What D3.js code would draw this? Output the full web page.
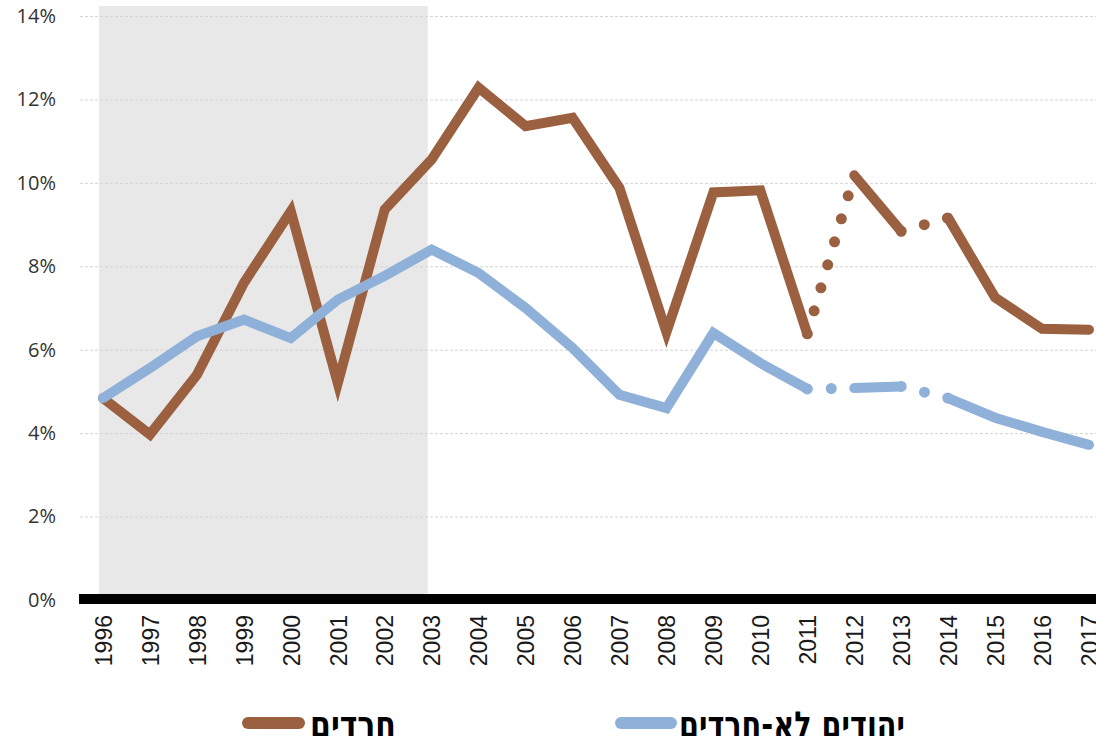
<!DOCTYPE html>
<html>
<head>
<meta charset="utf-8">
<script src="https://cdn.jsdelivr.net/npm/d3@7"></script>
<style>
  html, body { margin: 0; padding: 0; background: #fff; }
  svg { display: block; }
</style>
</head>
<body>
<svg id="chart" width="1096" height="736"></svg>
<script>
// ---- data ----
const years = [1996, 1997, 1998, 1999, 2000, 2001, 2002, 2003, 2004, 2005, 2006,
               2007, 2008, 2009, 2010, 2011, 2012, 2013, 2014, 2015, 2016, 2017];
const haredim = [4.84, 3.97, 5.4, 7.6, 9.32, 5.2, 9.36, 10.56, 12.28, 11.36, 11.56,
                 9.88, 6.42, 9.77, 9.82, 6.38, 10.18, 8.84, 9.16, 7.25, 6.5, 6.48];
const nonHaredim = [4.84, 5.56, 6.32, 6.72, 6.28, 7.2, 7.77, 8.4, 7.84, 7.0, 6.04,
                    4.92, 4.6, 6.4, 5.68, 5.06, 5.08, 5.12, 4.84, 4.37, 4.03, 3.72];
const solidRanges = [[1996, 2011], [2012, 2013], [2014, 2017]];
const dottedRanges = [[2011, 2012], [2013, 2014]];
const shadedYears = [1996, 2003];
const yTicks = [0, 2, 4, 6, 8, 10, 12, 14];
const seriesNames = ["חרדים", "יהודים לא-חרדים"];
const colors = ["#9b6040", "#8fb1d9"];

// ---- layout ----
const svg = d3.select("#chart");
const left = 80, right = 1096;
const x = d3.scalePoint().domain(years).range([103, 1089]);
const y = d3.scaleLinear().domain([0, 14]).range([600, 16]);

// shaded period
svg.append("rect")
  .attr("x", x(shadedYears[0]) - 4)
  .attr("y", y(14) - 10)
  .attr("width", x(shadedYears[1]) - x(shadedYears[0]))
  .attr("height", y(0) - y(14) + 10)
  .attr("fill", "#e8e8e8");

// y axis with gridlines
const yAxis = svg.append("g")
  .attr("transform", `translate(${left},0)`)
  .call(d3.axisLeft(y).tickValues(yTicks).tickFormat(d => d + "%")
        .tickSize(-(right - left)).tickPadding(24));
yAxis.select(".domain").remove();
yAxis.selectAll(".tick line")
  .attr("stroke", "#d4d4d4")
  .attr("stroke-width", 1)
  .attr("stroke-dasharray", "3,2")
  .filter(d => d === 0).remove();
yAxis.selectAll(".tick text")
  .attr("font-family", "'Open Sans', 'Noto Sans', sans-serif")
  .attr("font-size", 20)
  .attr("fill", "#333");

// baseline
svg.append("line")
  .attr("x1", left - 1).attr("x2", right)
  .attr("y1", y(0) - 1).attr("y2", y(0) - 1)
  .attr("stroke", "#000").attr("stroke-width", 10);

// x axis labels
const xAxis = svg.append("g")
  .attr("transform", `translate(0,${y(0)})`)
  .call(d3.axisBottom(x).tickSize(0));
xAxis.select(".domain").remove();
xAxis.selectAll(".tick text")
  .attr("transform", "rotate(-90)")
  .attr("text-anchor", "end")
  .attr("x", -15)
  .attr("y", 0)
  .attr("dy", "0.36em")
  .attr("font-family", "'Liberation Sans', Arial, sans-serif")
  .attr("font-size", 23)
  .attr("fill", "#1a1a1a");

// lines
const allSeries = [haredim, nonHaredim];
function segData(vals, r) {
  const i0 = years.indexOf(r[0]), i1 = years.indexOf(r[1]);
  return d3.range(i0, i1 + 1).map(i => [years[i], vals[i]]);
}
const line = d3.line().x(d => x(d[0])).y(d => y(d[1]));

allSeries.forEach((vals, si) => {
  const g = svg.append("g");
  dottedRanges.forEach(r => {
    g.append("path")
      .attr("d", line(segData(vals, r)))
      .attr("fill", "none")
      .attr("stroke", colors[si])
      .attr("stroke-width", 11)
      .attr("stroke-linecap", "round")
      .attr("stroke-dasharray", "0,24");
  });
  solidRanges.forEach(r => {
    g.append("path")
      .attr("d", line(segData(vals, r)))
      .attr("fill", "none")
      .attr("stroke", colors[si])
      .attr("stroke-width", 10)
      .attr("stroke-linecap", "round")
      .attr("stroke-linejoin", "miter");
  });
});

// legend
const legendItems = [
  { x1: 248, x2: 299, textLeft: 310, textWidth: 86 },
  { x1: 621, x2: 671, textLeft: 679, textWidth: 226 }
];
legendItems.forEach((it, i) => {
  svg.append("line")
    .attr("x1", it.x1).attr("x2", it.x2)
    .attr("y1", 723).attr("y2", 723)
    .attr("stroke", colors[i]).attr("stroke-width", 12)
    .attr("stroke-linecap", "round");
  const t = svg.append("text")
    .attr("x", 0)
    .attr("y", 0)
    .attr("font-family", "'DejaVu Sans Condensed', 'DejaVu Sans', sans-serif")
    .attr("font-weight", "bold")
    .attr("font-size", 36)
    .attr("fill", "#000")
    .text(seriesNames[i]);
  const bb = t.node().getBBox();
  const sx = it.textWidth / bb.width;
  t.attr("transform", `translate(${it.textLeft - bb.x * sx},737) scale(${sx},1)`);
});
</script>
</body>
</html>
